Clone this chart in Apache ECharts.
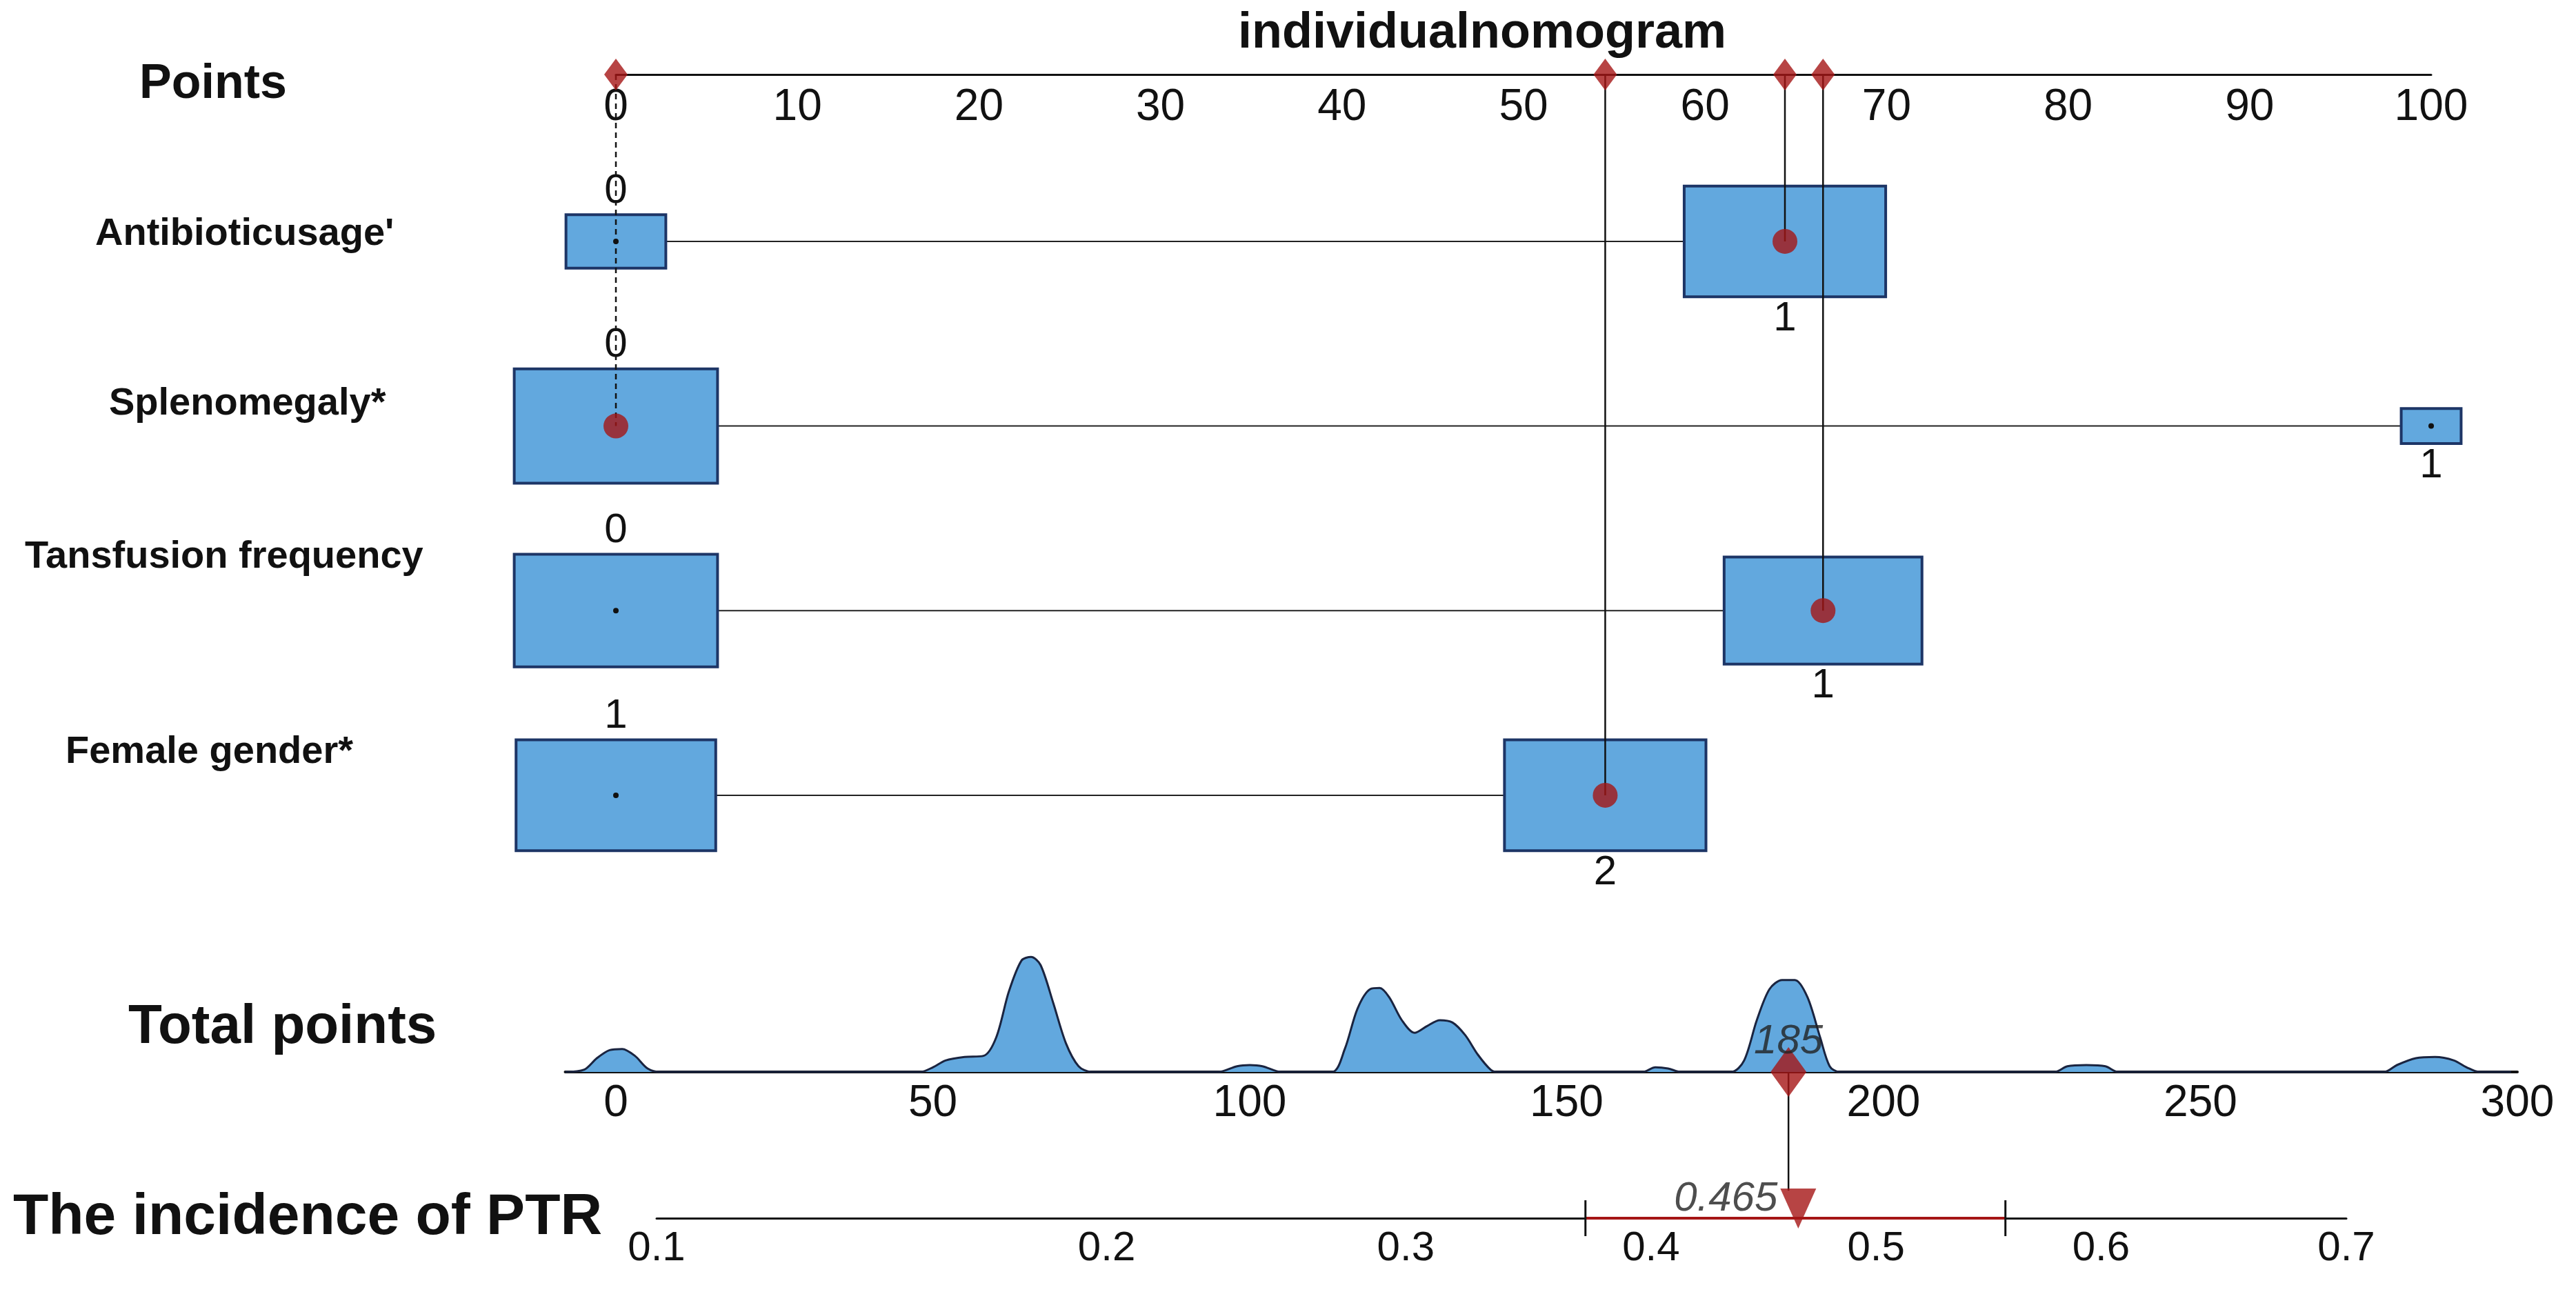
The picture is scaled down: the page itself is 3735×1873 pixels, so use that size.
<!DOCTYPE html>
<html>
<head>
<meta charset="utf-8">
<script src="https://cdn.jsdelivr.net/npm/echarts@6/dist/echarts.min.js"></script>
<style>
html,body{margin:0;padding:0;background:#fff;}
#chart{width:3735px;height:1873px;}
</style>
</head>
<body>
<div id="chart"></div>
<script>
// rows of the nomogram
var rowNames = ["Antibioticusage'", 'Splenomegaly*', 'Tansfusion frequency', 'Female gender*'];
var levelLabels = [['0', '1'], ['0', '1'], ['0', '1'], ['1', '2']];
var levelPoints = [[0, 64.4], [0, 100], [0, 66.5], [0, 54.5]];
var boxWidth = [[5.5, 11.1], [11.2, 3.3], [11.2, 10.9], [11.0, 11.1]];
var boxHeight = [[0.29, 0.6], [0.62, 0.19], [0.61, 0.58], [0.6, 0.6]];
var selectedLevel = [1, 0, 1, 1];

// total points distribution
var densX = [-8, -5, -3, -1, 1, 3, 5, 7,
    48, 50, 52, 55, 58, 60, 62, 64, 65.5, 67, 69, 71, 73, 75,
    95, 98, 100, 102, 105,
    113, 115, 117, 119, 120.5, 122, 124, 126, 128, 130, 132, 134, 136, 138, 139,
    162, 164, 166, 168,
    176, 178, 180, 182, 184, 186, 188, 190, 191.5, 193,
    227, 229, 232, 235, 237,
    279, 281, 284, 287, 290, 292, 294, 299];
var densY = [0, 0.02, 0.12, 0.19, 0.2, 0.14, 0.03, 0,
    0, 0.04, 0.1, 0.13, 0.14, 0.3, 0.7, 0.97, 1.0, 0.93, 0.6, 0.25, 0.05, 0,
    0, 0.05, 0.06, 0.05, 0,
    0, 0.2, 0.55, 0.72, 0.73, 0.65, 0.45, 0.34, 0.4, 0.45, 0.43, 0.32, 0.15, 0.02, 0,
    0, 0.04, 0.03, 0,
    0, 0.1, 0.45, 0.72, 0.8, 0.8, 0.65, 0.3, 0.05, 0,
    0, 0.05, 0.06, 0.05, 0,
    0, 0.06, 0.12, 0.13, 0.1, 0.04, 0, 0];

var pointTicks = [0, 10, 20, 30, 40, 50, 60, 70, 80, 90, 100];
var totalTicks = [0, 50, 100, 150, 200, 250, 300];
var probTicks = [0.1, 0.2, 0.3, 0.4, 0.5, 0.6, 0.7];
var totalScore = 185;
var prob = 0.465;
var probCI = [0.372, 0.558];

var FONT = "'Liberation Sans Narrow', 'Liberation Sans', Arial, sans-serif";
var RED = '#a51515';
var BOXC = '#62a8de';

function logit(p) { return Math.log(p / (1 - p)); }

var chart = echarts.init(document.getElementById('chart'));

var rowData = rowNames.map(function (n, i) { return [i]; });
var pickData = rowNames.map(function (n, i) { return [levelPoints[i][selectedLevel[i]], i + 1]; });
var densData = densX.map(function (x, i) { return [x, densY[i]]; });

var option = {
    animation: false,
    backgroundColor: '#fff',
    title: {
        text: 'individualnomogram', left: 2144, top: 8, textAlign: 'center',
        textStyle: {fontFamily: FONT, fontSize: 72, fontWeight: 'bold', color: '#111'}
    },
    grid: [
        {left: 893, width: 2632, top: 108, height: 1259},
        {left: 819.5, width: 2830.5, top: 1354, height: 200},
        {left: 952, width: 2450, top: 1666, height: 100}
    ],
    xAxis: [{
        gridIndex: 0, type: 'value', position: 'top', min: 0, max: 100,
        axisLine: {lineStyle: {color: '#111', width: 3}},
        axisTick: {show: false}, splitLine: {show: false},
        axisLabel: {inside: true, margin: 16, customValues: pointTicks, fontFamily: FONT, fontSize: 64, color: '#111'}
    }, {
        gridIndex: 1, type: 'value', min: -8, max: 300,
        axisLine: {lineStyle: {color: '#111', width: 4}},
        axisTick: {show: false}, splitLine: {show: false},
        axisLabel: {margin: 14, customValues: totalTicks, fontFamily: FONT, fontSize: 64, color: '#111'}
    }, {
        gridIndex: 2, type: 'value', min: logit(0.1), max: logit(0.7),
        axisLine: {lineStyle: {color: '#111', width: 3}},
        axisTick: {show: false}, splitLine: {show: false},
        axisLabel: {margin: 14, customValues: probTicks.map(logit), fontFamily: FONT, fontSize: 60, color: '#111',
            formatter: function (v) { return (1 / (1 + Math.exp(-v))).toFixed(1); }}
    }],
    yAxis: [
        {gridIndex: 0, type: 'value', inverse: true, min: 0.096, max: 4.8, show: false},
        {gridIndex: 1, type: 'value', min: 0, max: 1.2, show: false},
        {gridIndex: 2, type: 'value', min: 0, max: 1, show: false}
    ],
    graphic: [
        {type: 'text', left: 202, top: 88, style: {text: 'Points', font: 'bold 70px ' + FONT, fill: '#111'}},
        {type: 'text', left: 138, top: 312, style: {text: rowNames[0], font: 'bold 56px ' + FONT, fill: '#111'}},
        {type: 'text', left: 158, top: 558, style: {text: rowNames[1], font: 'bold 56px ' + FONT, fill: '#111'}},
        {type: 'text', left: 36, top: 780, style: {text: rowNames[2], font: 'bold 56px ' + FONT, fill: '#111'}},
        {type: 'text', left: 95, top: 1063, style: {text: rowNames[3], font: 'bold 56px ' + FONT, fill: '#111'}},
        {type: 'text', left: 186, top: 1450, style: {text: 'Total points', font: 'bold 80px ' + FONT, fill: '#111'}},
        {type: 'text', left: 19, top: 1724, style: {text: 'The incidence of PTR', font: 'bold 84px ' + FONT, fill: '#111'}}
    ],
    series: [{
        // boxes and connecting lines
        type: 'custom', xAxisIndex: 0, yAxisIndex: 0, data: rowData, z: 2,
        renderItem: function (params, api) {
            var i = api.value(0);
            var row = i + 1;
            var kids = [];
            var rects = [0, 1].map(function (k) {
                var p = levelPoints[i][k], w = boxWidth[i][k], h = boxHeight[i][k];
                var a = api.coord([p - w / 2, row - h / 2]);
                var b = api.coord([p + w / 2, row + h / 2]);
                return {x: a[0], y: a[1], w: b[0] - a[0], h: b[1] - a[1]};
            });
            var cy = api.coord([0, row])[1];
            kids.push({type: 'line', shape: {x1: rects[0].x + rects[0].w, y1: cy, x2: rects[1].x, y2: cy},
                style: {stroke: '#222', lineWidth: 2}});
            rects.forEach(function (r, k) {
                kids.push({type: 'rect', shape: {x: r.x, y: r.y, width: r.w, height: r.h},
                    style: {fill: BOXC, stroke: '#1d3566', lineWidth: 4}});
                if (k !== selectedLevel[i]) {
                    kids.push({type: 'circle', shape: {cx: r.x + r.w / 2, cy: cy, r: 4}, style: {fill: '#111'}});
                }
                kids.push({type: 'text', x: r.x + r.w / 2, y: k === 0 ? r.y - 4 : r.y + r.h + 2,
                    style: {text: levelLabels[i][k], font: '60px ' + FONT, fill: '#111', align: 'center',
                        verticalAlign: k === 0 ? 'bottom' : 'top'}});
            });
            return {type: 'group', children: kids};
        }
    }, {
        // vertical projection lines
        type: 'custom', xAxisIndex: 0, yAxisIndex: 0, data: pickData, z: 3,
        renderItem: function (params, api) {
            var a = api.coord([api.value(0), 0.096]);
            var b = api.coord([api.value(0), api.value(1)]);
            return {type: 'line', shape: {x1: a[0], y1: a[1], x2: b[0], y2: b[1]},
                style: {stroke: '#111', lineWidth: 2.5, lineDash: api.value(0) === 0 ? [8, 6] : null}};
        }
    }, {
        type: 'scatter', xAxisIndex: 0, yAxisIndex: 0, z: 4,
        data: pickData, symbol: 'circle', symbolSize: 36, itemStyle: {color: RED}
    }, {
        type: 'scatter', xAxisIndex: 0, yAxisIndex: 0, z: 4,
        data: pickData.map(function (d) { return [d[0], 0.096]; }),
        symbol: 'diamond', symbolSize: [34, 46], itemStyle: {color: RED}
    }, {
        type: 'line', xAxisIndex: 1, yAxisIndex: 1, data: densData, smooth: 0.3,
        showSymbol: false, lineStyle: {color: '#1a2440', width: 3},
        areaStyle: {color: BOXC, opacity: 1}
    }, {
        type: 'scatter', xAxisIndex: 1, yAxisIndex: 1, z: 5,
        data: [[totalScore, 0]], symbol: 'diamond', symbolSize: [52, 72], itemStyle: {color: RED},
        label: {show: true, position: 'top', distance: -22, formatter: String(totalScore),
            fontFamily: FONT, fontSize: 60, fontStyle: 'italic', color: '#222'}
    }, {
        type: 'custom', xAxisIndex: 2, yAxisIndex: 2, data: [probCI.map(logit)], z: 3,
        renderItem: function (params, api) {
            var a = api.coord([api.value(0), 0]);
            var b = api.coord([api.value(1), 0]);
            return {type: 'group', children: [
                {type: 'line', shape: {x1: a[0], y1: a[1], x2: b[0], y2: b[1]}, style: {stroke: RED, lineWidth: 4}},
                {type: 'line', shape: {x1: a[0], y1: a[1] - 26, x2: a[0], y2: a[1] + 26}, style: {stroke: '#111', lineWidth: 3}},
                {type: 'line', shape: {x1: b[0], y1: b[1] - 26, x2: b[0], y2: b[1] + 26}, style: {stroke: '#111', lineWidth: 3}}
            ]};
        }
    }, {
        type: 'scatter', xAxisIndex: 2, yAxisIndex: 2, z: 5,
        data: [[logit(prob), 0]], symbol: 'triangle', symbolRotate: 180, symbolSize: [52, 58],
        symbolOffset: [0, -14], itemStyle: {color: RED},
        label: {show: true, position: 'left', distance: 4, offset: [0, -14], formatter: String(prob),
            fontFamily: FONT, fontSize: 60, fontStyle: 'italic', color: '#222'}
    }]
};
chart.setOption(option);

// connector from total points to probability
var p1 = chart.convertToPixel({xAxisIndex: 1, yAxisIndex: 1}, [totalScore, 0]);
var p2 = chart.convertToPixel({xAxisIndex: 2, yAxisIndex: 2}, [logit(prob), 0]);
chart.setOption({graphic: option.graphic.concat([{
    type: 'line', z: 1, shape: {x1: p1[0], y1: p1[1], x2: p1[0], y2: p2[1] - 40},
    style: {stroke: '#111', lineWidth: 2.5}
}])});
</script>
</body>
</html>
